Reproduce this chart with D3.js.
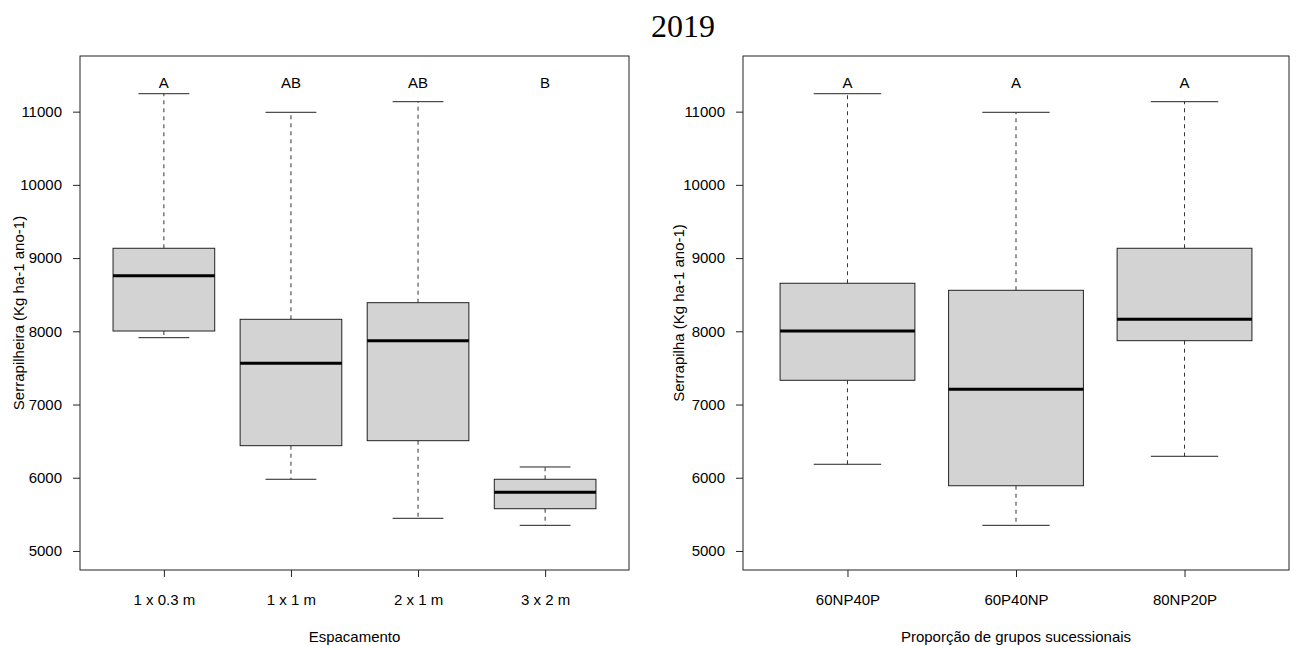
<!DOCTYPE html>
<html>
<head>
<meta charset="utf-8">
<script src="https://cdn.jsdelivr.net/npm/d3@7"></script>
<style>
  html, body { margin: 0; padding: 0; background: #fff; }
  svg { display: block; }
  text { font-family: "Liberation Sans", Arial, sans-serif; fill: #000; }
</style>
</head>
<body>
<svg id="chart" width="1300" height="646"></svg>
<script>
// ---- Data ----
const titleText = "2019";
const yTicks = [5000, 6000, 7000, 8000, 9000, 10000, 11000];
const yLimits = [5000, 11500];
const letterY = 11400;

// Panel 1: Espacamento
const groupsA = ["1 x 0.3 m", "1 x 1 m", "2 x 1 m", "3 x 2 m"];
const lettersA = ["A", "AB", "AB", "B"];
const whiskerLowA = [7913, 5979, 5446, 5350];
const q1A = [8004, 6438, 6506, 5577];
const medianA = [8759, 7563, 7872, 5801];
const q3A = [9134, 8164, 8391, 5979];
const whiskerHighA = [11245, 10991, 11136, 6147];

// Panel 2: Proporção de grupos sucessionais
const groupsB = ["60NP40P", "60P40NP", "80NP20P"];
const lettersB = ["A", "A", "A"];
const whiskerLowB = [6184, 5350, 6293];
const q1B = [7331, 5891, 7872];
const medianB = [8004, 7208, 8164];
const q3B = [8656, 8560, 9134];
const whiskerHighB = [11245, 10991, 11136];

const svg = d3.select("#chart");

svg.append("text")
  .attr("x", 683).attr("y", 37)
  .attr("text-anchor", "middle")
  .style("font-family", "'Liberation Serif', 'Times New Roman', serif")
  .style("font-size", "32px")
  .text(titleText);

function panel(cfg) {
  const n = cfg.groups.length;
  const ext = 0.04 * n;
  const x = d3.scaleLinear().domain([0.5 - ext, n + 0.5 + ext]).range([cfg.left, cfg.right]);
  const yr = yLimits[1] - yLimits[0];
  const y = d3.scaleLinear().domain([yLimits[0] - 0.04 * yr, yLimits[1] + 0.04 * yr]).range([570, 56]);
  const g = svg.append("g");

  const data = cfg.groups.map((name, i) => ({
    name, pos: i + 1, lo: cfg.lo[i], q1: cfg.q1[i], med: cfg.med[i], q3: cfg.q3[i], hi: cfg.hi[i], letter: cfg.letters[i]
  }));

  const box = g.selectAll("g.box").data(data).join("g").attr("class", "box");
  // whiskers (dashed)
  box.append("line")
    .attr("x1", d => x(d.pos)).attr("x2", d => x(d.pos))
    .attr("y1", d => y(d.q3)).attr("y2", d => y(d.hi))
    .attr("stroke", "#333").attr("stroke-width", 1).attr("stroke-dasharray", "4,4");
  box.append("line")
    .attr("x1", d => x(d.pos)).attr("x2", d => x(d.pos))
    .attr("y1", d => y(d.q1)).attr("y2", d => y(d.lo))
    .attr("stroke", "#333").attr("stroke-width", 1).attr("stroke-dasharray", "4,4");
  // staples
  box.append("line")
    .attr("x1", d => x(d.pos - 0.2)).attr("x2", d => x(d.pos + 0.2))
    .attr("y1", d => y(d.hi)).attr("y2", d => y(d.hi))
    .attr("stroke", "#222").attr("stroke-width", 1);
  box.append("line")
    .attr("x1", d => x(d.pos - 0.2)).attr("x2", d => x(d.pos + 0.2))
    .attr("y1", d => y(d.lo)).attr("y2", d => y(d.lo))
    .attr("stroke", "#222").attr("stroke-width", 1);
  // box
  box.append("rect")
    .attr("x", d => x(d.pos - 0.4)).attr("width", d => x(d.pos + 0.4) - x(d.pos - 0.4))
    .attr("y", d => y(d.q3)).attr("height", d => y(d.q1) - y(d.q3))
    .attr("fill", "#d3d3d3").attr("stroke", "#222").attr("stroke-width", 1);
  // median
  box.append("line")
    .attr("x1", d => x(d.pos - 0.4)).attr("x2", d => x(d.pos + 0.4))
    .attr("y1", d => y(d.med)).attr("y2", d => y(d.med))
    .attr("stroke", "#000").attr("stroke-width", 3);
  // letters
  box.append("text")
    .attr("x", d => x(d.pos)).attr("y", d => y(letterY))
    .attr("text-anchor", "middle").attr("dominant-baseline", "central")
    .style("font-size", "15px")
    .text(d => d.letter);

  // frame
  g.append("rect")
    .attr("x", cfg.left).attr("y", 56)
    .attr("width", cfg.right - cfg.left).attr("height", 570 - 56)
    .attr("fill", "none").attr("stroke", "#222").attr("stroke-width", 1);

  // y axis
  const ya = g.append("g").attr("transform", `translate(${cfg.left},0)`)
    .call(d3.axisLeft(y).tickValues(yTicks).tickFormat(d3.format("d")).tickSize(7).tickPadding(11).tickSizeOuter(0));
  ya.select(".domain").remove();
  ya.selectAll("line").attr("stroke", "#222");
  ya.selectAll("text").style("font-size", "15px").style("font-family", "'Liberation Sans', Arial, sans-serif");

  // x axis
  const xa = g.append("g").attr("transform", `translate(0,570)`)
    .call(d3.axisBottom(x).tickValues(data.map(d => d.pos)).tickFormat((d, i) => cfg.groups[i]).tickSize(7).tickPadding(17).tickSizeOuter(0));
  xa.select(".domain").remove();
  xa.selectAll("line").attr("stroke", "#222");
  xa.selectAll("text").style("font-size", "15px").style("font-family", "'Liberation Sans', Arial, sans-serif");

  // axis titles
  g.append("text")
    .attr("x", (cfg.left + cfg.right) / 2).attr("y", 642)
    .attr("text-anchor", "middle").style("font-size", "15px")
    .text(cfg.xlab);
  g.append("text")
    .attr("transform", `translate(${cfg.ylabX},${(56 + 570) / 2}) rotate(-90)`)
    .attr("text-anchor", "middle").style("font-size", "15px")
    .text(cfg.ylab);
}

panel({
  left: 80, right: 629, groups: groupsA, letters: lettersA,
  lo: whiskerLowA, q1: q1A, med: medianA, q3: q3A, hi: whiskerHighA,
  xlab: "Espacamento", ylab: "Serrapilheira (Kg ha-1 ano-1)", ylabX: 24
});
panel({
  left: 743, right: 1289, groups: groupsB, letters: lettersB,
  lo: whiskerLowB, q1: q1B, med: medianB, q3: q3B, hi: whiskerHighB,
  xlab: "Proporção de grupos sucessionais", ylab: "Serrapilha (Kg ha-1 ano-1)", ylabX: 684
});
</script>
</body>
</html>
